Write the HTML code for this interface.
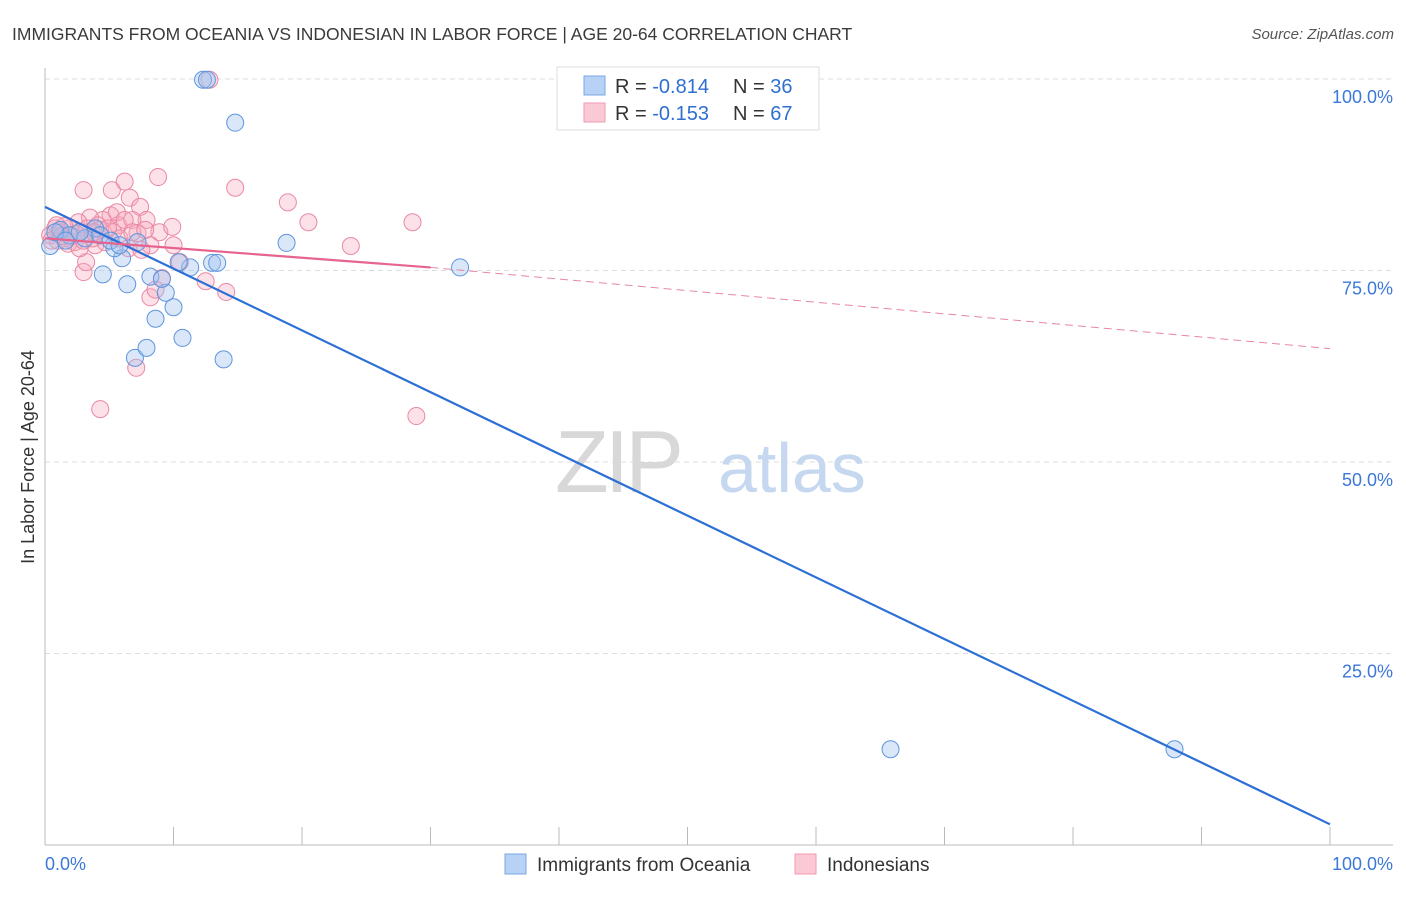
<!DOCTYPE html>
<html><head><meta charset="utf-8">
<style>
body{margin:0;background:#fff;font-family:"Liberation Sans",sans-serif;}
svg text{font-family:"Liberation Sans",sans-serif;}
</style></head>
<body>
<svg id="chart" width="1406" height="892" viewBox="0 0 1406 892" xmlns="http://www.w3.org/2000/svg">
<text x="12" y="40" font-size="17.5" fill="#3a3a3a">IMMIGRANTS FROM OCEANIA VS INDONESIAN IN LABOR FORCE | AGE 20-64 CORRELATION CHART</text>
<text x="1394" y="39" font-size="15" fill="#555" font-style="italic" text-anchor="end">Source: ZipAtlas.com</text>
<g id="grid"></g>
<g>
<text x="555" y="492" font-size="88" fill="#d8d8d8" font-family="Liberation Serif" letter-spacing="-4">ZIP</text>
<text x="718" y="492" font-size="70" fill="#c6d8ef">atlas</text>
</g>
<g id="axes"></g>
<g id="pts"></g>
<g id="lines"></g>
<text transform="translate(34,457) rotate(-90)" font-size="18" fill="#333" text-anchor="middle">In Labor Force | Age 20-64</text>
<g>
<rect x="557" y="67" width="262" height="63" fill="#fff" stroke="#ddd"/>
<rect x="584" y="76" width="21" height="19" fill="#b8d2f5" stroke="#7aa7e6"/>
<rect x="584" y="103" width="21" height="19" fill="#fbc9d6" stroke="#ef9ab2"/>
<text x="615" y="93" font-size="20" fill="#333">R = <tspan fill="#2e6fd1">-0.814</tspan><tspan dx="24">N = </tspan><tspan fill="#2e6fd1">36</tspan></text>
<text x="615" y="120" font-size="20" fill="#333">R = <tspan fill="#2e6fd1">-0.153</tspan><tspan dx="24">N = </tspan><tspan fill="#2e6fd1">67</tspan></text>
</g>
<g>
<rect x="505" y="854" width="21" height="20" fill="#b8d2f5" stroke="#7aa7e6"/>
<text x="537" y="871" font-size="19" fill="#333">Immigrants from Oceania</text>
<rect x="795" y="854" width="21" height="20" fill="#fbc9d6" stroke="#ef9ab2"/>
<text x="827" y="871" font-size="19" fill="#333">Indonesians</text>
</g>
</svg>
<script>
const blueX=[0.4,12.3,12.6,14.8,18.8,32.3,4.5,6.4,8.6,7.0,7.9,10.0,10.7,9.4,13.9,8.2,9.1,11.3,13.0,13.4,10.4,7.2,6.0,5.4,3.9,1.2,1.9,3.1,65.8,87.9,0.8,4.3,1.6,5.1,5.8,2.7];
const blueY=[78.2,99.9,99.9,94.3,78.6,75.4,74.5,73.2,68.7,63.6,64.9,70.2,66.2,72.1,63.4,74.2,73.9,75.4,76.0,76.0,76.1,78.7,76.6,77.9,80.5,80.3,79.6,79.2,12.5,12.5,80.0,79.6,78.9,78.9,78.3,80.0];
const pinkX=[3.0,5.2,6.2,8.8,14.8,18.9,20.5,28.6,23.8,6.6,7.4,7.9,8.9,9.9,10.0,10.5,9.1,8.2,8.6,7.1,4.3,28.9,12.5,14.1,12.8,3.0,3.2,5.1,5.7,4.5,3.5,2.6,1.9,1.2,0.8,0.4,1.6,2.3,3.9,4.7,5.3,5.8,6.5,6.8,7.2,8.2,4.3,3.7,3.3,2.1,1.5,1.0,1.8,2.7,4.1,4.9,5.6,6.2,6.8,7.8,0.5,0.9,1.3,2.4,3.0,3.8,7.5];
const pinkY=[85.5,85.5,86.6,87.2,85.8,83.9,81.3,81.3,78.2,84.5,83.3,81.6,80.0,80.7,78.3,76.1,74.0,71.5,72.5,62.3,56.9,56.0,73.6,72.2,99.9,74.8,76.1,82.2,80.9,81.6,81.9,81.3,80.5,80.0,80.5,79.6,79.2,78.7,78.3,78.7,80.0,79.2,77.9,81.6,79.9,78.3,80.3,79.2,80.5,79.5,80.8,78.9,78.5,77.9,80.9,80.5,82.6,81.6,80.0,80.3,78.9,80.9,79.5,79.8,78.9,80.0,77.7];
const blueTrend=[83.3,2.7];
const pinkTrend=[79.2,75.4,64.8];
const pinkSolidEnd=30;
const yTicks=[100,75,50,25];
const yTickLabels=["100.0%","75.0%","50.0%","25.0%"];
const xTickLabels=["0.0%","100.0%"];
const NS="http://www.w3.org/2000/svg";
const X0=45,X1=1330,Y0=845,Y1=79;
const sx=v=>X0+(X1-X0)*v/100;
const sy=v=>Y0-(Y0-Y1)*v/100;
function mk(tag,attrs,parent){const e=document.createElementNS(NS,tag);for(const k in attrs)e.setAttribute(k,attrs[k]);parent.appendChild(e);return e;}
const grid=document.getElementById('grid'),axes=document.getElementById('axes'),pts=document.getElementById('pts'),lines=document.getElementById('lines');
yTicks.forEach((t,i)=>{
  const g=mk('line',{x1:X0,x2:1393,y1:sy(t),y2:sy(t),stroke:'#ddd','stroke-dasharray':'5,4'},grid);
  
  
  const l=mk('text',{x:1393,y:sy(t)+24,'font-size':18,fill:'#3b78d8','text-anchor':'end'},axes);
  l.textContent=yTickLabels[i];
  
  
});
const ax=mk('line',{x1:X0,x2:X0,y1:68,y2:Y0,stroke:'#bbb'},axes);


const bx=mk('line',{x1:X0,x2:1393,y1:Y0,y2:Y0,stroke:'#bbb'},axes);


for(let i=0;i<=10;i++){
  const t=mk('line',{x1:sx(i*10),x2:sx(i*10),y1:Y0,y2:827,stroke:'#bbb'},axes);
  
  
}
[[0,'start',X0],[1,'end',1393]].forEach(([i,a,x])=>{
  const l=mk('text',{x:x,y:870,'font-size':18,fill:'#3b78d8','text-anchor':a},axes);
  l.textContent=xTickLabels[i];
  
  
});
function dots(xs,ys,fill,stroke,name){
  xs.forEach((v,i)=>{
    const c=mk('circle',{cx:sx(v),cy:sy(ys[i]),r:8.5,fill:fill,stroke:stroke,'stroke-width':1},pts);
    
    
  });
}
dots(pinkX,pinkY,'rgba(246,168,190,0.35)','#ea88a4','indonesian-point');
dots(blueX,blueY,'rgba(160,195,240,0.4)','#5f95dd','oceania-point');
const bl=mk('line',{x1:sx(0),y1:sy(blueTrend[0]),x2:sx(100),y2:sy(blueTrend[1]),stroke:'#2c6fd6','stroke-width':2.2},lines);


const pl=mk('line',{x1:sx(0),y1:sy(pinkTrend[0]),x2:sx(pinkSolidEnd),y2:sy(pinkTrend[1]),stroke:'#e6648e','stroke-width':2.2},lines);


const pd=mk('line',{x1:sx(pinkSolidEnd),y1:sy(pinkTrend[1]),x2:sx(100),y2:sy(pinkTrend[2]),stroke:'#e6889f','stroke-width':1,'stroke-dasharray':'8,5'},lines);


</script>
</body></html>
